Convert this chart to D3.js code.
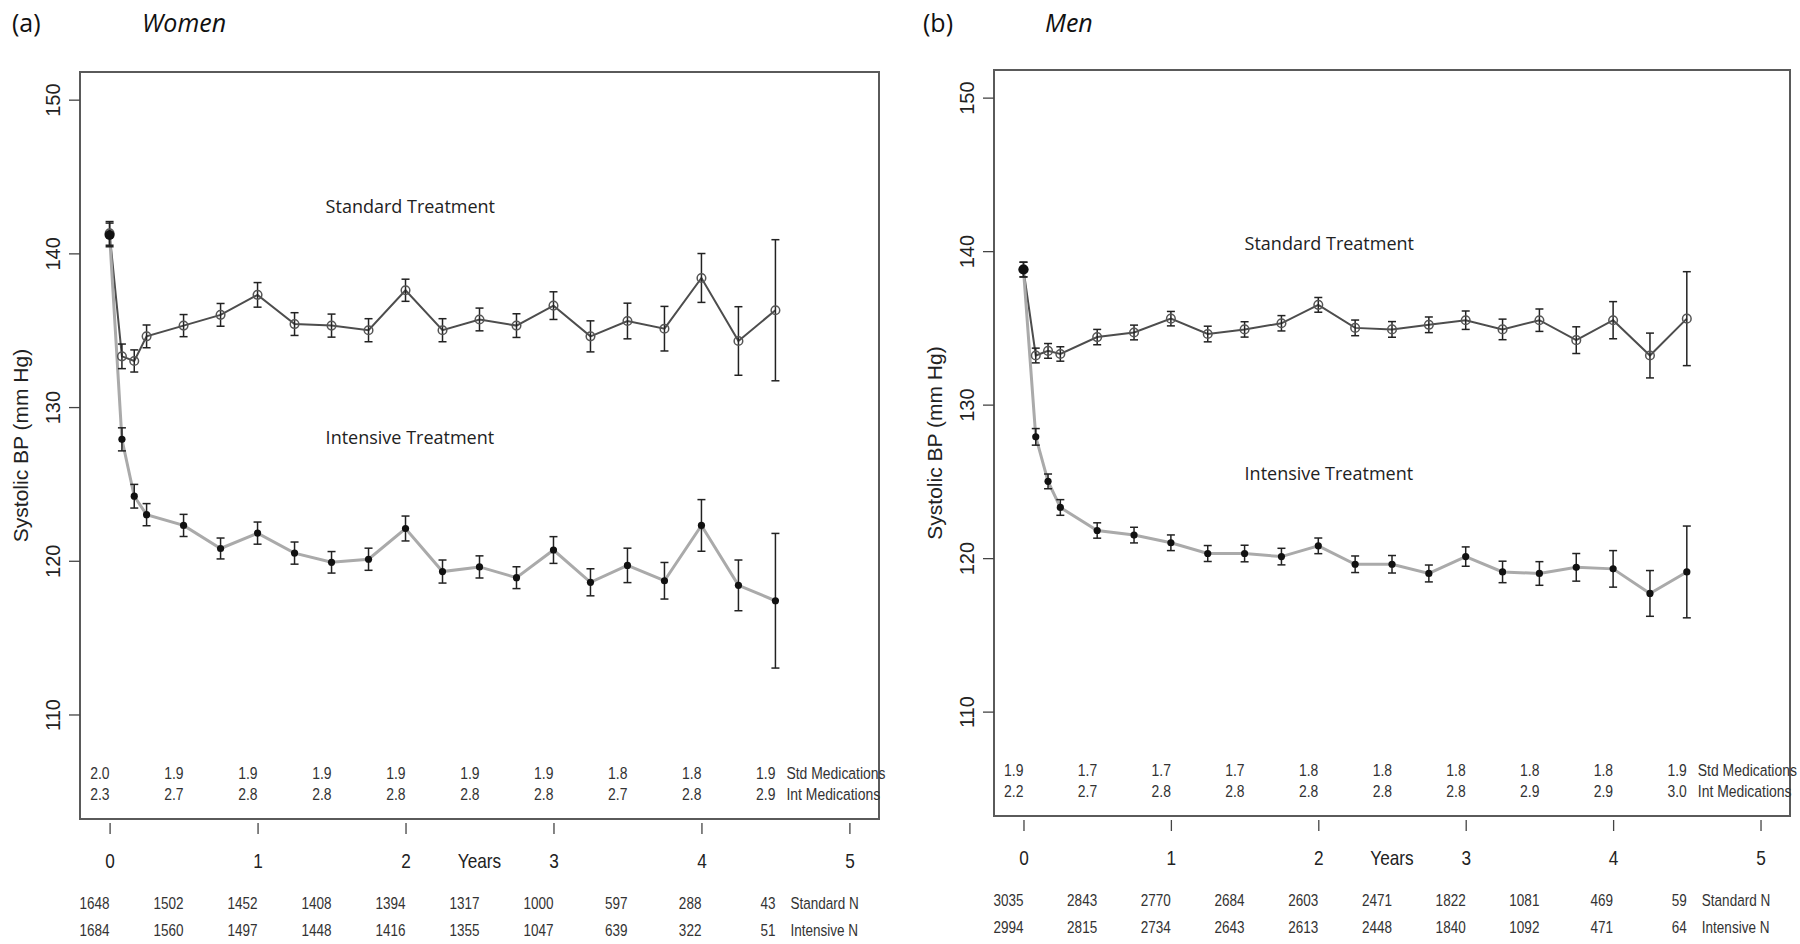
<!DOCTYPE html>
<html>
<head>
<meta charset="utf-8">
<script src="https://cdn.jsdelivr.net/npm/d3@7"></script>
<style>
  body { margin: 0; background: #fff; }
  svg { display: block; }
</style>
</head>
<body>
<div id="chart-area"></div>
<script>
const SANS = "'Liberation Sans', Arial, sans-serif";
const HUMANIST = "'Open Sans', 'Noto Sans', sans-serif";
const NARROW_SCALE = 0.82; // squeeze Liberation Sans to look like Arial Narrow

// visit months (x values), year ticks, half-year columns for the tables under the plot
const months = [0, 1, 2, 3, 6, 9, 12, 15, 18, 21, 24, 27, 30, 33, 36, 39, 42, 45, 48, 51, 54];
const yearTicks = [0, 1, 2, 3, 4, 5];
const tableYears = [0, 0.5, 1, 1.5, 2, 2.5, 3, 3.5, 4, 4.5];
const bpTicks = [110, 120, 130, 140, 150];

// (a) Women
const womenStd   = [141.3, 133.3, 133.0, 134.6, 135.3, 136.0, 137.3, 135.4, 135.3, 135.0, 137.6, 135.0, 135.7, 135.3, 136.6, 134.6, 135.6, 135.1, 138.4, 134.3, 136.3];
const womenStdSE = [0.77, 0.80, 0.72, 0.74, 0.72, 0.74, 0.80, 0.74, 0.75, 0.75, 0.72, 0.75, 0.74, 0.77, 0.90, 1.01, 1.16, 1.45, 1.59, 2.23, 4.59];
const womenInt   = [141.2, 127.9, 124.2, 123.0, 122.3, 120.8, 121.8, 120.5, 119.9, 120.1, 122.1, 119.3, 119.6, 118.9, 120.7, 118.6, 119.7, 118.7, 122.3, 118.4, 117.4];
const womenIntSE = [0.77, 0.75, 0.77, 0.72, 0.72, 0.68, 0.72, 0.72, 0.70, 0.72, 0.81, 0.75, 0.72, 0.71, 0.87, 0.88, 1.12, 1.19, 1.68, 1.65, 4.38];
const womenStdMeds = [2.0, 1.9, 1.9, 1.9, 1.9, 1.9, 1.9, 1.8, 1.8, 1.9];
const womenIntMeds = [2.3, 2.7, 2.8, 2.8, 2.8, 2.8, 2.8, 2.7, 2.8, 2.9];
const womenStdN = [1648, 1502, 1452, 1408, 1394, 1317, 1000, 597, 288, 43];
const womenIntN = [1684, 1560, 1497, 1448, 1416, 1355, 1047, 639, 322, 51];

// (b) Men
const menStd   = [138.8, 133.2, 133.5, 133.3, 134.4, 134.7, 135.6, 134.6, 134.9, 135.3, 136.5, 135.0, 134.9, 135.2, 135.5, 134.9, 135.5, 134.2, 135.5, 133.2, 135.6];
const menStdSE = [0.48, 0.48, 0.48, 0.47, 0.50, 0.48, 0.47, 0.51, 0.50, 0.50, 0.48, 0.51, 0.51, 0.51, 0.60, 0.67, 0.73, 0.87, 1.21, 1.46, 3.06];
const menInt   = [138.8, 127.9, 125.0, 123.3, 121.8, 121.5, 121.0, 120.3, 120.3, 120.1, 120.8, 119.6, 119.6, 119.0, 120.1, 119.1, 119.0, 119.4, 119.3, 117.7, 119.1];
const menIntSE = [0.48, 0.54, 0.48, 0.51, 0.50, 0.51, 0.51, 0.52, 0.54, 0.54, 0.51, 0.54, 0.57, 0.55, 0.63, 0.70, 0.77, 0.90, 1.19, 1.49, 2.99];
const menStdMeds = [1.9, 1.7, 1.7, 1.7, 1.8, 1.8, 1.8, 1.8, 1.8, 1.9];
const menIntMeds = [2.2, 2.7, 2.8, 2.8, 2.8, 2.8, 2.8, 2.9, 2.9, 3.0];
const menStdN = [3035, 2843, 2770, 2684, 2603, 2471, 1822, 1081, 469, 59];
const menIntN = [2994, 2815, 2734, 2643, 2613, 2448, 1840, 1092, 471, 64];

let panelA = {left: 80, right: 879, top: 72, bottom: 819, letter: "(a)", letterX: 12, title: "Women", titleX: 142,
  labelYear: 1.46, stdLabelBP: 142.65, intLabelBP: 127.6,
  std: womenStd, stdSE: womenStdSE, int: womenInt, intSE: womenIntSE,
  stdMeds: womenStdMeds, intMeds: womenIntMeds, stdN: womenStdN, intN: womenIntN};
let panelB = {left: 994, right: 1790, top: 70, bottom: 816, letter: "(b)", letterX: 923, title: "Men", titleX: 1045,
  labelYear: 1.5, stdLabelBP: 140.1, intLabelBP: 125.1,
  std: menStd, stdSE: menStdSE, int: menInt, intSE: menIntSE,
  stdMeds: menStdMeds, intMeds: menIntMeds, stdN: menStdN, intN: menIntN};

const svg = d3.select("#chart-area").append("svg")
    .attr("width", 1800)
    .attr("height", 944);

plotPanel(panelA);
plotPanel(panelB);

function plotPanel(p) {
    const g = svg.append("g");
    const x = d3.scaleLinear().domain([-0.2, 5.2]).range([p.left, p.right]);
    const y = d3.scaleLinear().domain([103.2, 151.8]).range([p.bottom, p.top]);

    g.append("text").attr("x", p.letterX).attr("y", 32)
        .attr("font-family", HUMANIST).attr("font-size", "25px").attr("fill", "#111").text(p.letter);
    g.append("text").attr("x", p.titleX).attr("y", 32)
        .attr("font-family", HUMANIST).attr("font-style", "italic").attr("font-size", "25px").attr("fill", "#111").text(p.title);

    // box round the plot
    g.append("rect")
        .attr("x", p.left).attr("y", p.top)
        .attr("width", p.right - p.left).attr("height", p.bottom - p.top)
        .attr("fill", "none").attr("stroke", "#5a5a5a").attr("stroke-width", 2);

    // y axis, R style rotated labels
    const yAxis = g.append("g").attr("transform", `translate(${p.left},0)`)
        .call(d3.axisLeft(y).tickValues(bpTicks).tickSize(11).tickFormat(d3.format("d")));
    yAxis.select(".domain").remove();
    yAxis.selectAll("line").attr("stroke", "#444").attr("stroke-width", 1.3);
    yAxis.selectAll("text")
        .attr("transform", "rotate(-90)")
        .attr("x", 0).attr("y", -20).attr("dy", 0)
        .attr("text-anchor", "middle")
        .attr("font-family", SANS).attr("font-size", "20px").attr("fill", "#222");

    g.append("text")
        .attr("transform", `translate(${p.left - 52},${(p.top + p.bottom) / 2}) rotate(-90)`)
        .attr("text-anchor", "middle")
        .attr("font-family", SANS).attr("font-size", "21px").attr("fill", "#222")
        .text("Systolic BP (mm Hg)");

    // x axis hanging under the box
    const xAxis = g.append("g").attr("transform", `translate(0,${p.bottom + 4})`)
        .call(d3.axisBottom(x).tickValues(yearTicks).tickSize(11).tickFormat(d3.format("d")));
    xAxis.select(".domain").remove();
    xAxis.selectAll("line").attr("stroke", "#444").attr("stroke-width", 1.3);
    xAxis.selectAll("text")
        .attr("y", 45).attr("dy", 0)
        .attr("transform", `scale(${NARROW_SCALE},1)`)
        .attr("font-family", SANS).attr("font-size", "21px").attr("fill", "#222");
    narrowText(g, x(2.5), p.bottom + 49, "Years", "21px", "middle", "#222");

    // medication and N tables
    addRow(g, x, p.stdMeds, p.bottom - 40, d3.format(".1f"), "Std Medications", 11, "17px");
    addRow(g, x, p.intMeds, p.bottom - 19, d3.format(".1f"), "Int Medications", 11, "17px");
    addRow(g, x, p.stdN, p.bottom + 90, d3.format("d"), "Standard N", 15, "16.5px");
    addRow(g, x, p.intN, p.bottom + 117, d3.format("d"), "Intensive N", 15, "16.5px");

    // treatment labels
    g.append("text").attr("x", x(p.labelYear)).attr("y", y(p.stdLabelBP))
        .attr("font-family", HUMANIST).attr("font-size", "18px").attr("fill", "#222")
        .text("Standard Treatment");
    g.append("text").attr("x", x(p.labelYear)).attr("y", y(p.intLabelBP))
        .attr("font-family", HUMANIST).attr("font-size", "18px").attr("fill", "#222")
        .text("Intensive Treatment");

    const line = d3.line().x((d, i) => x(months[i] / 12)).y(d => y(d));
    g.append("path").datum(p.std).attr("d", line)
        .attr("fill", "none").attr("stroke", "#4d4d4d").attr("stroke-width", 2);
    g.append("path").datum(p.int).attr("d", line)
        .attr("fill", "none").attr("stroke", "#aaaaaa").attr("stroke-width", 3);

    addErrorBars(g, x, y, p.std, p.stdSE);
    addErrorBars(g, x, y, p.int, p.intSE);

    g.selectAll(".std-pt").data(p.std).join("circle")
        .attr("cx", (d, i) => x(months[i] / 12)).attr("cy", d => y(d))
        .attr("r", 4.3).attr("fill", "none").attr("stroke", "#555").attr("stroke-width", 1.5);
    g.selectAll(".int-pt").data(p.int).join("circle")
        .attr("cx", (d, i) => x(months[i] / 12)).attr("cy", d => y(d))
        .attr("r", (d, i) => i === 0 ? 5 : 3.6).attr("fill", "#111");
}

// Arial Narrow look: plain sans squeezed horizontally around its anchor point
function narrowText(to, x, y, label, size, anchor, color) {
    return to.append("g").attr("transform", `translate(${x},${y}) scale(${NARROW_SCALE},1)`)
        .append("text")
        .attr("text-anchor", anchor)
        .attr("font-family", SANS).attr("font-size", size).attr("fill", color)
        .text(label);
}

function addRow(g, x, values, yPos, fmt, label, gap, size) {
    values.forEach((v, i) => narrowText(g, x(tableYears[i]), yPos, fmt(v), size, "end", "#333"));
    narrowText(g, x(tableYears[tableYears.length - 1]) + gap, yPos, label, size, "start", "#333");
}

function addErrorBars(g, x, y, values, se) {
    const bars = g.append("g").attr("stroke", "#222").attr("stroke-width", 1.5);
    values.forEach((v, i) => {
        const cx = x(months[i] / 12);
        bars.append("line").attr("x1", cx).attr("x2", cx).attr("y1", y(v - se[i])).attr("y2", y(v + se[i]));
        bars.append("line").attr("x1", cx - 4).attr("x2", cx + 4).attr("y1", y(v - se[i])).attr("y2", y(v - se[i]));
        bars.append("line").attr("x1", cx - 4).attr("x2", cx + 4).attr("y1", y(v + se[i])).attr("y2", y(v + se[i]));
    });
}
</script>
</body>
</html>
